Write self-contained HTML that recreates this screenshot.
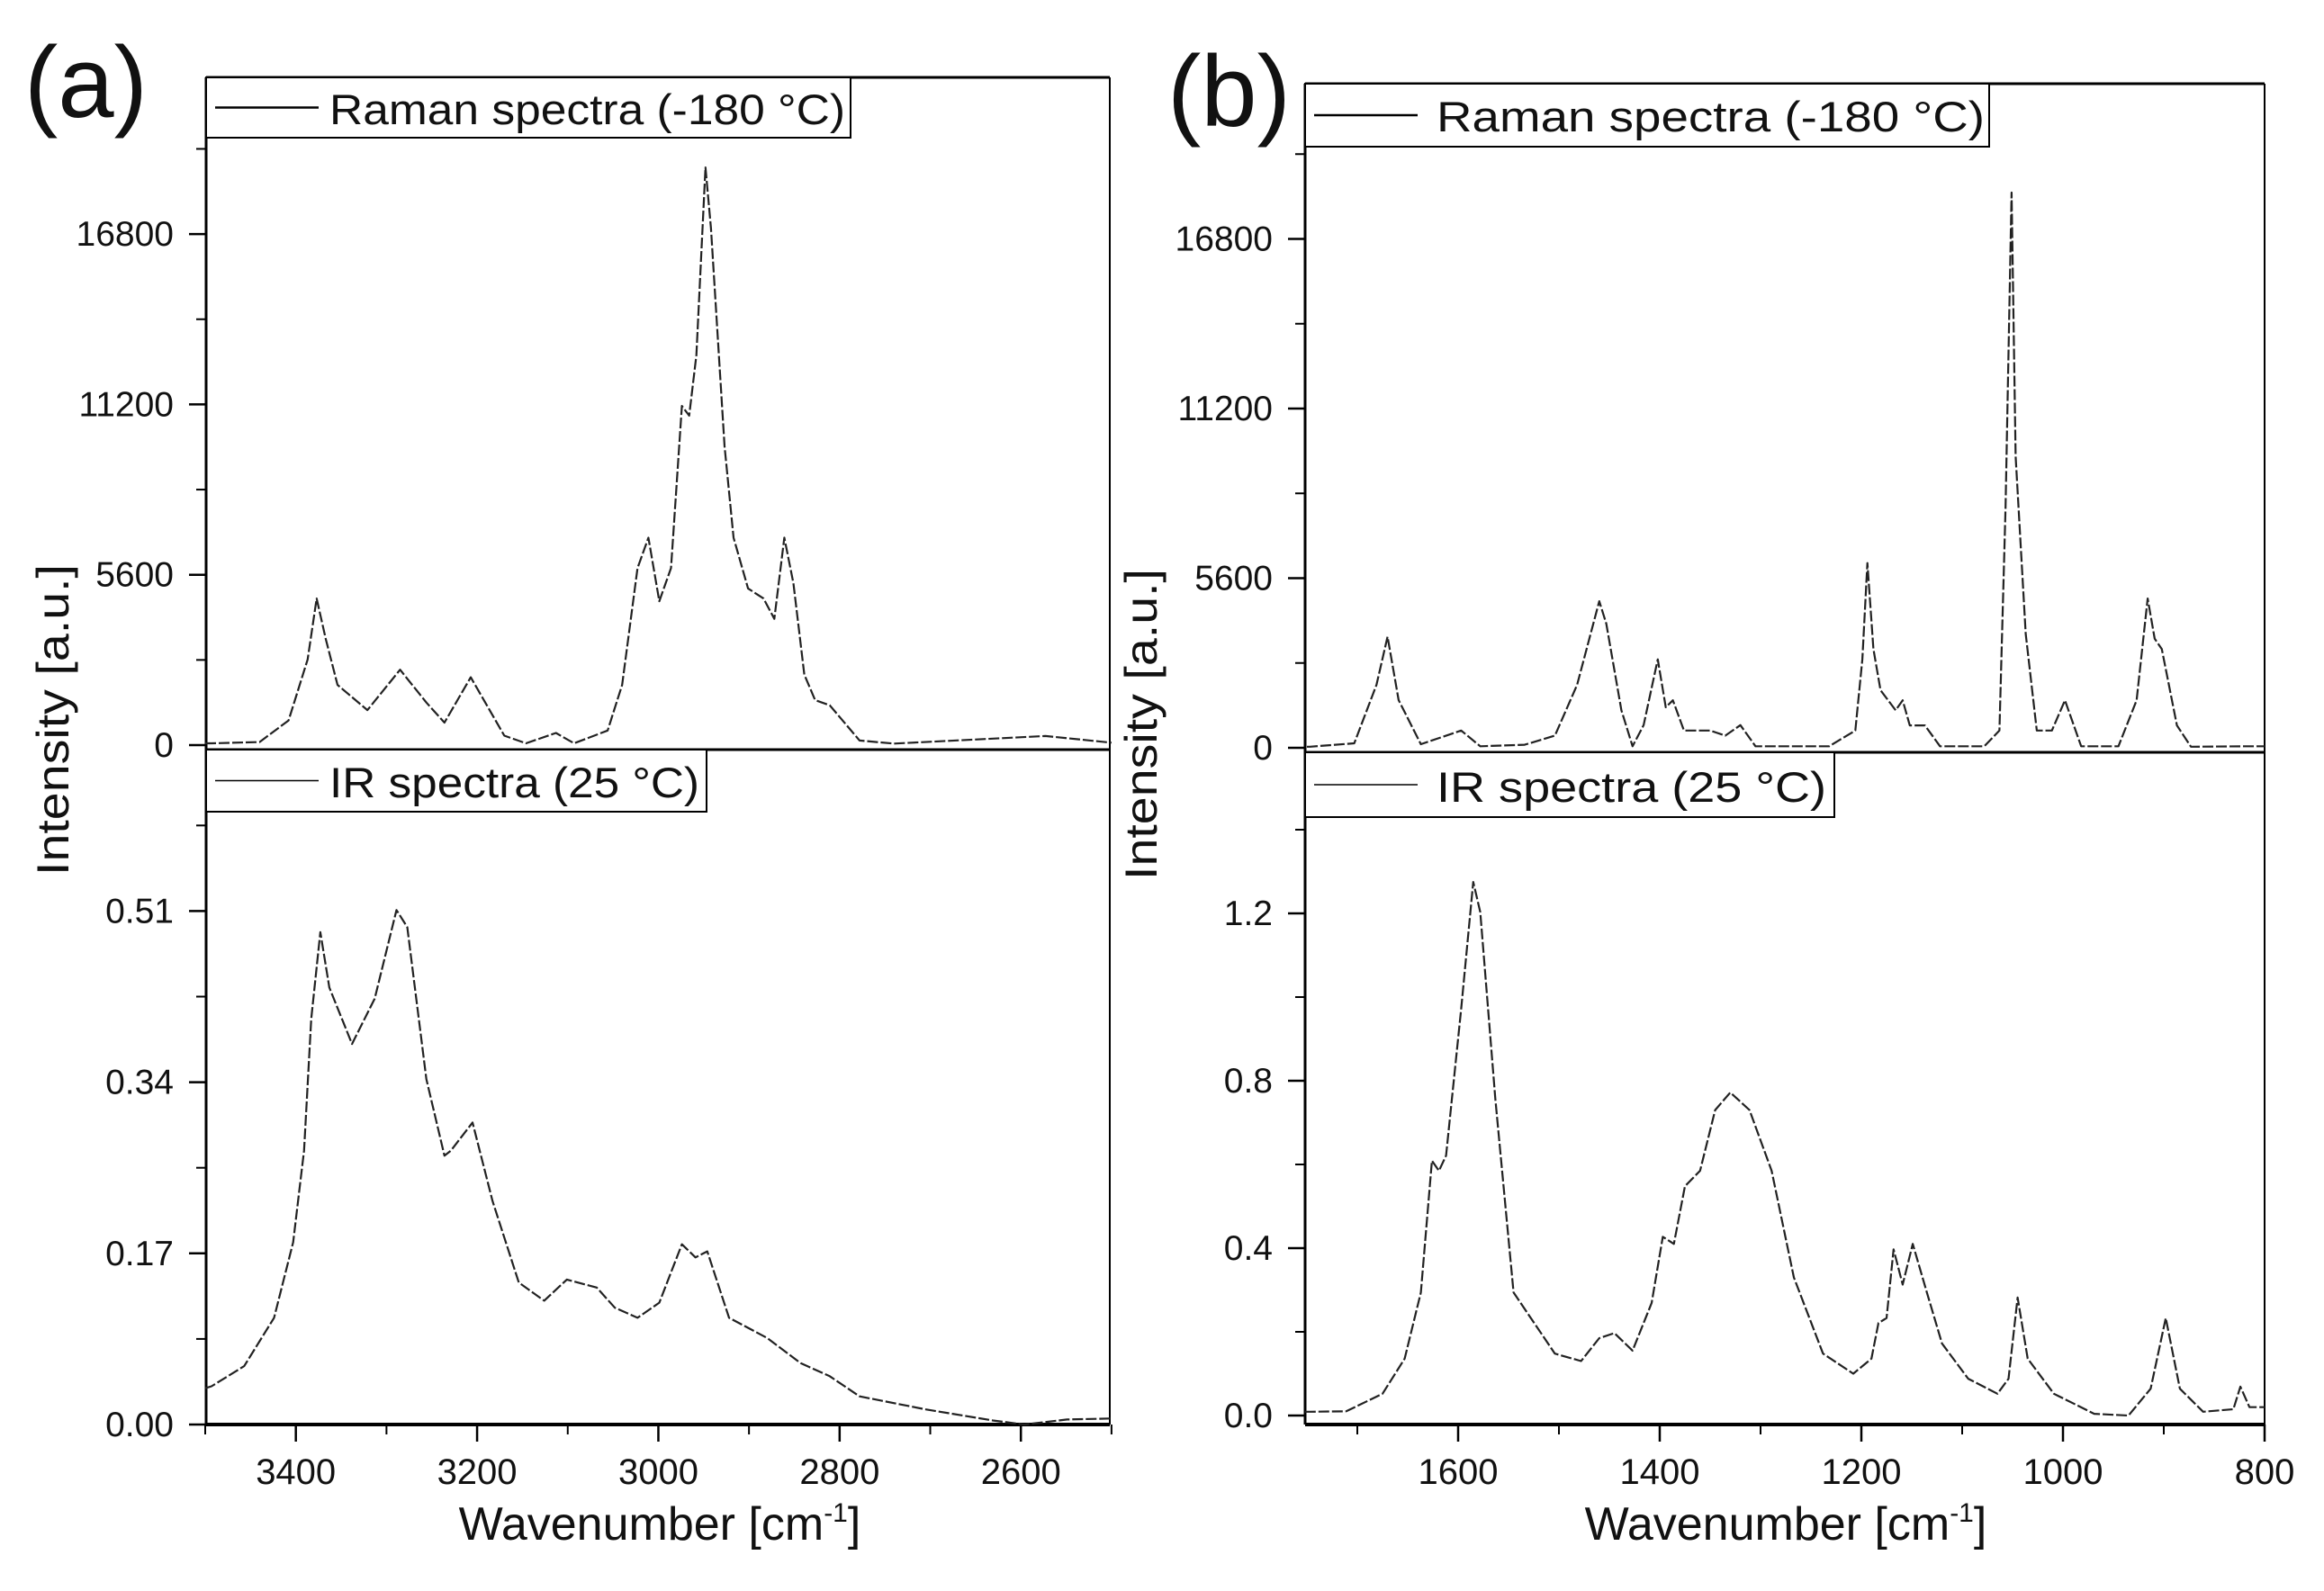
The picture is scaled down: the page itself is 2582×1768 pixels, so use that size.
<!DOCTYPE html>
<html><head><meta charset="utf-8">
<style>
html,body{margin:0;padding:0;background:#fff;}
svg{display:block;}
text{font-family:"Liberation Sans",Arial,sans-serif;fill:#111;}
</style></head>
<body>
<svg id="fig" width="2582" height="1768" viewBox="0 0 2582 1768" xmlns="http://www.w3.org/2000/svg">
<rect x="0" y="0" width="2582" height="1768" fill="#fff"/>
<g id="layer"></g>
</svg>
<script>
// Panel (a) Raman spectrum
const ramanA_wn = [3500,3493,3440,3408,3387,3377,3367,3354,3321,3285,3256,3236,3207,3170,3146,3113,3093,3056,3040,3023,3011,2999,2986,2974,2966,2958,2948,2942,2927,2917,2901,2884,2872,2861,2851,2839,2827,2811,2778,2740,2573,2500];
const ramanA_int = [60,60,100,810,2815,4820,3490,1980,1150,2480,1400,740,2230,310,60,400,60,480,1980,5820,6820,4730,5820,11150,10830,12820,18990,16990,9820,6820,5150,4820,4150,6820,5320,2320,1480,1310,150,50,300,80];
// Panel (a) IR spectrum
const irA_wn = [3500,3493,3457,3424,3403,3391,3383,3373,3363,3338,3313,3289,3277,3256,3236,3229,3205,3183,3154,3126,3101,3068,3048,3023,2999,2974,2959,2946,2922,2880,2843,2811,2778,2705,2631,2596,2549,2500];
const irA_int = [0.036,0.038,0.058,0.106,0.181,0.272,0.403,0.489,0.434,0.378,0.423,0.511,0.494,0.343,0.267,0.272,0.300,0.222,0.141,0.123,0.144,0.136,0.116,0.106,0.121,0.179,0.166,0.172,0.106,0.086,0.061,0.048,0.028,0.015,0.004,0.0,0.005,0.006];
// Panel (b) Raman spectrum
const ramanB_wn = [1750,1747,1703,1681,1670,1659,1637,1597,1578,1534,1504,1482,1460,1453,1438,1427,1416,1402,1394,1387,1376,1350,1335,1320,1305,1232,1206,1199,1194,1188,1181,1166,1159,1152,1137,1122,1078,1063,1057,1051,1047,1037,1026,1011,998,982,945,927,916,909,902,887,873,820,800];
const ramanB_int = [35,35,150,2080,3670,1575,120,570,50,100,400,2080,4840,4100,1240,50,750,2920,1340,1570,570,570,400,750,50,50,570,2920,6100,3260,1900,1240,1570,740,740,50,50,570,7940,18330,9620,3760,570,570,1570,50,50,1570,4930,3600,3260,740,35,50,50];
// Panel (b) IR spectrum
const irB_wn = [1752,1747,1711,1675,1653,1637,1626,1619,1612,1597,1585,1578,1563,1545,1504,1478,1460,1445,1427,1408,1397,1386,1375,1360,1345,1330,1311,1289,1267,1238,1208,1190,1183,1175,1168,1159,1149,1135,1120,1094,1065,1054,1045,1035,1009,969,935,913,898,884,861,831,824,815,800];
const irB_int = [0.009,0.009,0.010,0.052,0.136,0.294,0.609,0.585,0.621,0.972,1.275,1.203,0.755,0.294,0.148,0.130,0.185,0.197,0.155,0.269,0.427,0.41,0.548,0.585,0.73,0.772,0.73,0.585,0.33,0.148,0.10,0.136,0.221,0.233,0.397,0.313,0.41,0.294,0.172,0.088,0.052,0.088,0.282,0.136,0.052,0.004,0.0,0.064,0.233,0.064,0.009,0.015,0.069,0.02,0.02];
// Tick values
const ticksA_x = [3400,3200,3000,2800,2600];
const minorA_x = [3500,3300,3100,2900,2700,2500];
const ticksB_x = [1600,1400,1200,1000,800];
const minorB_x = [1700,1500,1300,1100,900];
const ticksTop_y = [0,5600,11200,16800];
const minorTop_y = [2800,8400,14000,19600];
const ticksA_ir = [0,0.17,0.34,0.51];
const minorA_ir = [0.085,0.255,0.425,0.595];
const ticksB_ir = [0,0.4,0.8,1.2];
const minorB_ir = [0.2,0.6,1.0,1.4];
const ticksA_irLabels = ["0.00","0.17","0.34","0.51"];
const ticksB_irLabels = ["0.0","0.4","0.8","1.2"];

const NS="http://www.w3.org/2000/svg";
const layer=document.getElementById('layer');
function mk(tag,attrs,parent){const e=document.createElementNS(NS,tag);for(const k in attrs)e.setAttribute(k,attrs[k]);(parent||layer).appendChild(e);return e;}

// axis functions
const xA = wn => 228 + (3500-wn)*1.0069;
const xB = wn => 1620 + (1600-wn)*1.12;
const yATop = v => 828 - v*189.3/5600;
const yABot = v => 1583 - v*190.2/0.17;
const yBTop = v => 831 - v*188.5/5600;
const yBBot = v => 1573 - v*186/0.4;

function series(xs,ys,fx,fy,name){
  const d=xs.map((w,i)=>(i?'L':'M')+fx(w).toFixed(1)+' '+fy(ys[i]).toFixed(1)).join(' ');
  const p=mk('path',{d:d,fill:'none',stroke:'#222','stroke-width':2.2,'stroke-dasharray':'12 3','stroke-linejoin':'round'});
  
  
}
function line(x1,y1,x2,y2,w){return mk('line',{x1:x1,y1:y1,x2:x2,y2:y2,stroke:'#000','stroke-width':w});}
function txt(x,y,s,size,anchor,name,extra){
  const t=mk('text',Object.assign({x:x,y:y,'font-size':size,'text-anchor':anchor||'start'},extra||{}));
  t.textContent=s;
  
  
  return t;
}

function panel(o){
  const g=mk('g',{});
  
  
  line(o.L,o.T,o.R,o.T,3);
  line(o.R,o.T,o.R,o.B,2);
  line(o.L,o.T,o.L,o.B,3);
  line(o.L,o.B,o.R,o.B,4);
  line(o.L,o.D,o.R,o.D,3);
  ticksTop_y.forEach(v=>{const y=o.yT(v);line(o.L-19,y,o.L,y,2.5);txt(o.L-36,y+13,String(v),39,'end','y-tick-label-raman');});
  minorTop_y.forEach(v=>{const y=o.yT(v);line(o.L-11,y,o.L,y,2);});
  o.irT.forEach((v,i)=>{const y=o.yB(v);line(o.L-19,y,o.L,y,2.5);txt(o.L-36,y+13,o.irL[i],39,'end','y-tick-label-ir');});
  o.irM.forEach(v=>{const y=o.yB(v);line(o.L-11,y,o.L,y,2);});
  o.xT.forEach(v=>{const x=o.x(v);line(x,o.B,x,o.B+19,2.5);txt(x,o.B+66,String(v),40,'middle','x-tick-label');});
  o.xM.forEach(v=>{const x=o.x(v);if(x>=o.L-2&&x<=o.R+2)line(x,o.B,x,o.B+11,2);});
  series(o.rw,o.ri,o.x,o.yT,'raman-line');
  series(o.iw,o.ii,o.x,o.yB,'ir-line');
  const l1=mk('rect',{x:o.L,y:o.T,width:o.lg1.w,height:o.lg1.h,fill:'#fff',stroke:'#000','stroke-width':2});
  
  
  line(o.L+10,o.T+o.lg1.h/2,o.L+125,o.T+o.lg1.h/2,2.5);
  txt(o.lg1.tx,o.lg1.by,'Raman spectra (-180 °C)',47,'start','legend-raman-label',{textLength:o.lg1.tw,lengthAdjust:'spacingAndGlyphs'});
  const l2=mk('rect',{x:o.L,y:o.D,width:o.lg2.w,height:o.lg2.h,fill:'#fff',stroke:'#000','stroke-width':2});
  
  
  line(o.L+10,o.D+o.lg2.h/2,o.L+125,o.D+o.lg2.h/2,1.5);
  txt(o.lg1.tx,o.lg2.by,'IR spectra (25 °C)',47,'start','legend-ir-label',{textLength:o.lg2.tw,lengthAdjust:'spacingAndGlyphs'});
  const xt=txt(o.xtc,1711,'Wavenumber [cm',52,'middle','x-axis-title');
  const sup=mk('tspan',{dy:-20,'font-size':30},xt);sup.textContent='-1';
  const cl=mk('tspan',{dy:20},xt);cl.textContent=']';
  txt(0,0,'Intensity [a.u.]',50,'middle','y-axis-title',{transform:'translate('+o.ytx+','+o.yty+') rotate(-90)',textLength:346,lengthAdjust:'spacingAndGlyphs'});
  txt(o.pl.x,o.pl.y,o.pl.s,112,'start','panel-label');
}

panel({name:'panel-a',L:229,R:1233,T:86,D:833,B:1583,x:xA,yT:yATop,yB:yABot,
  irT:ticksA_ir,irM:minorA_ir,irL:ticksA_irLabels,xT:ticksA_x,xM:minorA_x,
  rw:ramanA_wn,ri:ramanA_int,iw:irA_wn,ii:irA_int,
  lg1:{w:716,h:67,tx:366,by:138,tw:573},lg2:{w:556,h:69,by:886,tw:411},
  xtc:733,ytx:76,yty:800,pl:{x:27,y:130,s:'(a)'}});
panel({name:'panel-b',L:1450,R:2516,T:93,D:836,B:1583,x:xB,yT:yBTop,yB:yBBot,
  irT:ticksB_ir,irM:minorB_ir,irL:ticksB_irLabels,xT:ticksB_x,xM:minorB_x,
  rw:ramanB_wn,ri:ramanB_int,iw:irB_wn,ii:irB_int,
  lg1:{w:760,h:70,tx:1596,by:146,tw:609},lg2:{w:588,h:72,by:891,tw:433},
  xtc:1984,ytx:1285,yty:805,pl:{x:1297,y:140,s:'(b)'}});
</script>
</body></html>
